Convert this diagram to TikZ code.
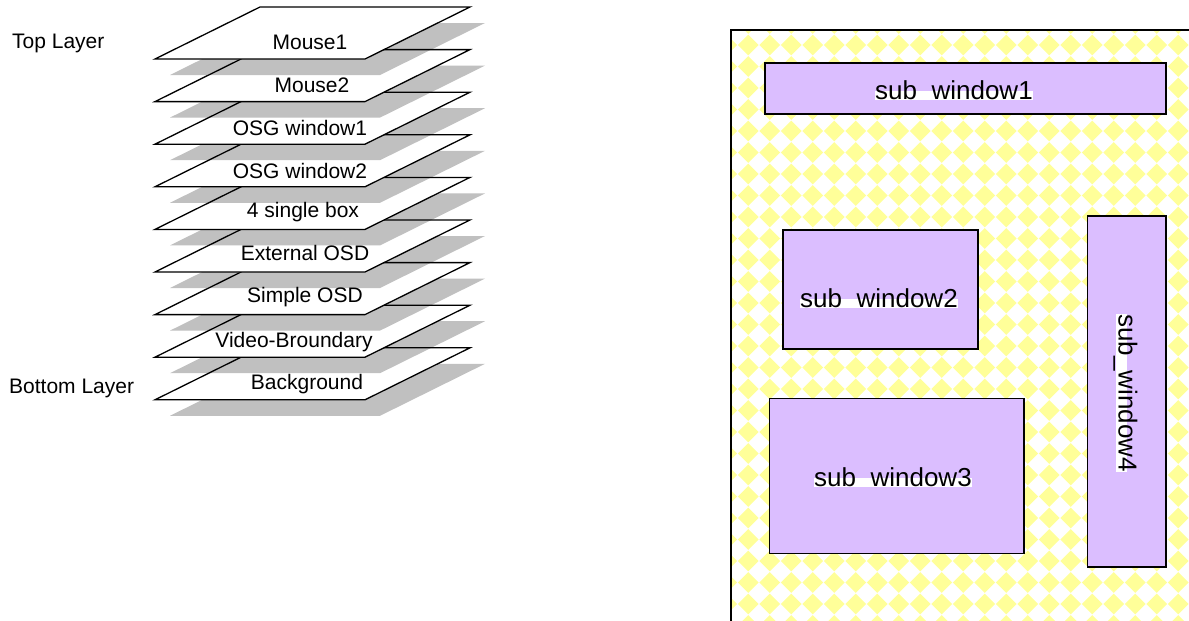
\documentclass[tikz,border=0pt]{standalone}
\usepackage{fontspec}
\setmainfont{Liberation Sans}
\definecolor{shadowgray}{RGB}{192,192,192}
\definecolor{diayellow}{RGB}{255,255,153}
\definecolor{winpurple}{RGB}{219,190,255}
\tikzset{
  layeredge/.style={draw=black, line width=1.3pt, line join=miter},
  layershadow/.style={fill=shadowgray},
  layerlabel/.style={fill=white, inner xsep=1.5pt, inner ysep=0.5pt, text height=0.9em, text depth=0.21em, anchor=base, font=\fontsize{21}{25}\selectfont},
  sidelabel/.style={inner sep=0pt, anchor=base west, font=\fontsize{21}{25}\selectfont},
  subwin/.style={fill=winpurple, draw=black, line width=1.6pt},
  sublabel/.style={fill=white, inner xsep=0.5pt, inner ysep=0pt, text height=0.8em, text depth=0.1em, anchor=base, font=\fontsize{26}{30}\selectfont},
}
\begin{document}
\begin{tikzpicture}[x=1pt, y=-1pt]
\useasboundingbox (0,0) rectangle (1189,621);
\clip (0,0) rectangle (1189,621);
\fill[white] (0,0) rectangle (1189,621);

% ---------- left: stacked layers ----------
\fill[layershadow] (170,415.8) -- (380,415.8) -- (485,363.8) -- (275,363.8) -- cycle;
\foreach \b [count=\k] in {399.8,357.2,314.6,272,229.4,186.8,144.2,101.6,59} {
  \fill[white] (155,\b) -- (365,\b) -- (470,{\b-52}) -- (260,{\b-52}) -- cycle;
  \ifnum\k<9
    \fill[layershadow] (170,{\b-26.6}) -- (380,{\b-26.6}) -- (485,{\b-78.6}) -- (275,{\b-78.6}) -- cycle;
  \fi
  \draw[layeredge] (155,\b) -- (365,\b) -- (470,{\b-52}) -- (260,{\b-52}) -- cycle;
}
\node[layerlabel] (l1) at (310,49) {Mouse1};
\node[layerlabel] (l2) at (312,92) {Mouse2};
\node[layerlabel] (l3) at (300,135) {OSG window1};
\node[layerlabel] (l4) at (300,178) {OSG window2};
\node[layerlabel] (l5) at (303,217) {4 single box};
\node[layerlabel] (l6) at (305,260) {External OSD};
\node[layerlabel] (l7) at (305,302) {Simple OSD};
\node[layerlabel] (l8) at (294,347.5) {Video-Broundary};
\node[layerlabel] (l9) at (307,389) {Background};
\node[sidelabel] (top) at (12,48.3) {Top Layer};
\node[sidelabel] (bottom) at (9,393) {Bottom Layer};

% ---------- right: screen with sub windows ----------
\begin{scope}
  \clip (731,30) rectangle (1200,640);
  \fill[diayellow]
    \foreach \c in {0,...,23} {
      \foreach \r in {0,...,29} {
        ({726.8+21.5*\c-10.4},{23.5+21.5*\r}) -- ({726.8+21.5*\c},{23.5+21.5*\r-10.4})
        -- ({726.8+21.5*\c+10.4},{23.5+21.5*\r}) -- ({726.8+21.5*\c},{23.5+21.5*\r+10.4}) -- cycle
      }
    };
\end{scope}
\draw[line width=2pt] (731,640) -- (731,30) -- (1200,30);

\draw[subwin] (765,63) rectangle (1166,114);
\draw[subwin] (783,230) rectangle (978,349);
\draw[subwin] (769.3,398.3) rectangle (1024,553.3);
\draw[subwin] (1087.3,215.7) rectangle (1166,566.7);

\node[sublabel] (sw1) at (954,99) {sub~~window1};
\node[sublabel] (sw2) at (879,307) {sub~~window2};
\node[sublabel] (sw3) at (893,486) {sub~~window3};
\node[sublabel, text depth=0.22em, rotate=-90] (sw4) at (1118.5,393) {sub\_window4};
\end{tikzpicture}
\end{document}
